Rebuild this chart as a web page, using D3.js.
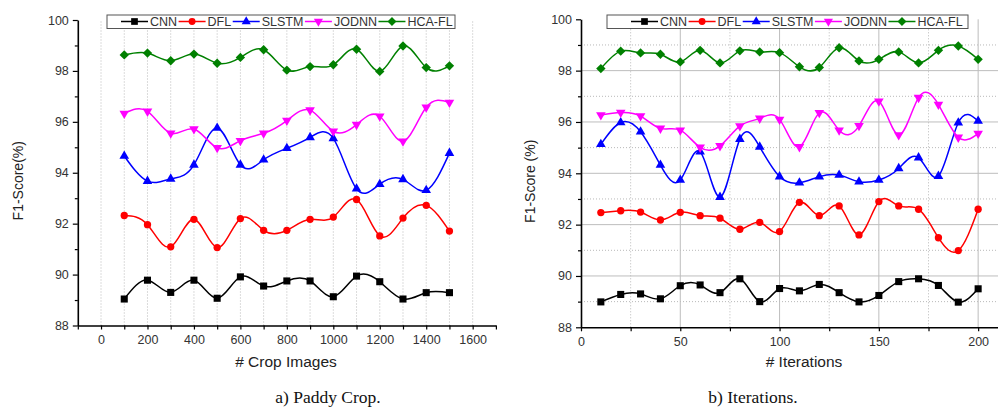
<!DOCTYPE html>
<html>
<head>
<meta charset="utf-8">
<script src="https://cdn.jsdelivr.net/npm/d3@7"></script>
<style>
body { margin: 0; background: #fff; }
svg { display: block; }
</style>
</head>
<body>
<svg width="998" height="410"></svg>
<script>
const svg = d3.select('svg');

const seriesNames = ['CNN', 'DFL', 'SLSTM', 'JODNN', 'HCA-FL'];
const seriesColors = ['#000000', '#ff0000', '#0000ff', '#ff00ff', '#008000'];

// panel a) paddy crop
const cropX = [100, 200, 300, 400, 500, 600, 700, 800, 900, 1000, 1100, 1200, 1300, 1400, 1500];
const cropCNN = [89.04, 89.78, 89.30, 89.78, 89.07, 89.91, 89.55, 89.75, 89.75, 89.13, 89.94, 89.72, 89.04, 89.29, 89.29];
const cropDFL = [92.32, 91.96, 91.09, 92.17, 91.06, 92.20, 91.74, 91.74, 92.17, 92.26, 92.95, 91.52, 92.22, 92.72, 91.71];
const cropSLSTM = [94.66, 93.67, 93.76, 94.31, 95.76, 94.31, 94.51, 94.96, 95.39, 95.35, 93.37, 93.55, 93.74, 93.31, 94.77];
const cropJODNN = [96.33, 96.41, 95.55, 95.72, 94.98, 95.26, 95.55, 96.05, 96.46, 95.63, 95.89, 96.22, 95.24, 96.57, 96.76];
const cropHCAFL = [98.63, 98.70, 98.40, 98.66, 98.30, 98.53, 98.83, 98.03, 98.17, 98.24, 98.85, 97.98, 98.98, 98.13, 98.20];

// panel b) iterations
const iterX = [10, 20, 30, 40, 50, 60, 70, 80, 90, 100, 110, 120, 130, 140, 150, 160, 170, 180, 190, 200];
const iterCNN = [88.99, 89.28, 89.30, 89.11, 89.62, 89.65, 89.35, 89.89, 89.00, 89.51, 89.42, 89.67, 89.35, 88.99, 89.24, 89.78, 89.89, 89.63, 88.98, 89.50];
const iterDFL = [92.47, 92.54, 92.49, 92.18, 92.48, 92.35, 92.25, 91.82, 92.09, 91.73, 92.87, 92.35, 92.73, 91.60, 92.90, 92.73, 92.60, 91.49, 90.99, 92.60];
const iterSLSTM = [95.13, 95.98, 95.62, 94.32, 93.74, 94.84, 93.07, 95.33, 95.03, 93.87, 93.63, 93.87, 93.93, 93.67, 93.74, 94.19, 94.61, 93.89, 95.97, 96.04];
const iterJODNN = [96.27, 96.37, 96.23, 95.75, 95.68, 95.01, 95.07, 95.84, 96.14, 96.10, 95.03, 96.36, 95.68, 95.85, 96.81, 95.49, 96.95, 96.68, 95.40, 95.55];
const iterHCAFL = [98.08, 98.76, 98.69, 98.64, 98.34, 98.79, 98.30, 98.77, 98.73, 98.70, 98.15, 98.12, 98.89, 98.38, 98.44, 98.73, 98.30, 98.79, 98.96, 98.44];

const yMajor = [88, 90, 92, 94, 96, 98, 100];
const yMinor = [89, 91, 93, 95, 97, 99];

const symbols = [
    { type: d3.symbolSquare, size: 50, rotate: 0 },
    { type: d3.symbolCircle, size: 42, rotate: 0 },
    { type: d3.symbolTriangle, size: 40, rotate: 0 },
    { type: d3.symbolTriangle, size: 40, rotate: 180 },
    { type: d3.symbolSquare, size: 44, rotate: 45 }
];

function drawPanel(p) {
    const x = d3.scaleLinear().domain(p.xDomain).range(p.xRange);
    const y = d3.scaleLinear().domain([88, 100]).range(p.yRange);
    const g = svg.append('g');

    // grid
    const grid = g.append('g').attr('fill', 'none');
    p.gridXMinor.forEach(v => grid.append('line')
        .attr('x1', x(v)).attr('x2', x(v)).attr('y1', y(88)).attr('y2', y(100))
        .attr('stroke', '#b8b8b8').attr('stroke-dasharray', '1,2'));
    p.gridYMinor.forEach(v => grid.append('line')
        .attr('x1', p.xRange[0]).attr('x2', p.xRange[1]).attr('y1', y(v)).attr('y2', y(v))
        .attr('stroke', '#b8b8b8').attr('stroke-dasharray', '1,2'));
    p.gridXMajor.forEach(v => grid.append('line')
        .attr('x1', x(v)).attr('x2', x(v)).attr('y1', y(88)).attr('y2', y(100))
        .attr('stroke', '#bdbdbd'));
    p.gridYMajor.forEach(v => grid.append('line')
        .attr('x1', p.xRange[0]).attr('x2', p.xRange[1]).attr('y1', y(v)).attr('y2', y(v))
        .attr('stroke', '#bdbdbd'));

    // axes
    g.append('g')
        .attr('transform', `translate(${p.xRange[0]},0)`)
        .call(d3.axisLeft(y).tickValues(yMajor).tickSize(5).tickSizeOuter(0).tickPadding(4));
    g.append('g')
        .attr('transform', `translate(${p.xRange[0]},0)`)
        .call(d3.axisLeft(y).tickValues(yMinor).tickSize(3).tickFormat(''))
        .select('.domain').remove();
    g.append('g')
        .attr('transform', `translate(0,${p.yRange[0]})`)
        .call(d3.axisBottom(x).tickValues(p.xMajor).tickFormat(d3.format('d'))
            .tickSize(4).tickSizeOuter(0).tickPadding(6));
    g.append('g')
        .attr('transform', `translate(0,${p.yRange[0]})`)
        .call(d3.axisBottom(x).tickValues(p.xMinor).tickSize(4).tickFormat(''))
        .select('.domain').remove();

    g.selectAll('.tick text')
        .attr('font-family', 'Liberation Sans, Arial, sans-serif')
        .attr('font-size', 12.5)
        .attr('fill', '#333');
    g.selectAll('.domain').attr('stroke-width', 1.6);
    g.selectAll('.tick line').attr('stroke-width', 1.2);

    // series
    const line = d3.line()
        .x((d, i) => x(p.x[i]))
        .y(d => y(d))
        .curve(d3.curveNatural);
    p.series.forEach((vals, k) => {
        g.append('path')
            .attr('d', line(vals))
            .attr('fill', 'none')
            .attr('stroke', seriesColors[k])
            .attr('stroke-width', 1.5);
        const s = symbols[k];
        g.append('g').selectAll('path')
            .data(vals)
            .join('path')
            .attr('d', d3.symbol().type(s.type).size(s.size))
            .attr('transform', (d, i) => `translate(${x(p.x[i])},${y(d)}) rotate(${s.rotate})`)
            .attr('fill', seriesColors[k]);
    });

    // legend
    const lg = g.append('g');
    lg.append('rect')
        .attr('x', p.legendBox[0]).attr('y', 15)
        .attr('width', p.legendBox[1] - p.legendBox[0]).attr('height', 13.5)
        .attr('fill', '#fff').attr('stroke', '#555').attr('stroke-width', 1);
    let lx = p.legendStart;
    seriesNames.forEach((name, k) => {
        lg.append('line')
            .attr('x1', lx).attr('x2', lx + 27).attr('y1', 21.5).attr('y2', 21.5)
            .attr('stroke', seriesColors[k]).attr('stroke-width', 1.5);
        const s = symbols[k];
        lg.append('path')
            .attr('d', d3.symbol().type(s.type).size(s.size * 0.9))
            .attr('transform', `translate(${lx + 13.5},21.5) rotate(${s.rotate})`)
            .attr('fill', seriesColors[k]);
        const t = lg.append('text')
            .attr('x', lx + 29).attr('y', 26)
            .attr('font-family', 'Liberation Sans, Arial, sans-serif')
            .attr('font-size', 12.5)
            .attr('fill', '#333')
            .text(name);
        lx += 29 + t.node().getComputedTextLength() + 1.5;
    });

    // titles
    g.append('text')
        .attr('transform', `translate(${p.yTitleX},${(p.yRange[0] + p.yRange[1]) / 2 + 8}) rotate(-90)`)
        .attr('text-anchor', 'middle')
        .attr('font-family', 'Liberation Sans, Arial, sans-serif')
        .attr('font-size', 14)
        .attr('fill', '#222')
        .text(p.yTitle);
    g.append('text')
        .attr('x', p.xTitleX).attr('y', 367)
        .attr('text-anchor', 'middle')
        .attr('font-family', 'Liberation Sans, Arial, sans-serif')
        .attr('font-size', 15.5)
        .attr('fill', '#222')
        .text(p.xTitle);
    g.append('text')
        .attr('x', p.captionX).attr('y', 403)
        .attr('text-anchor', 'middle')
        .attr('font-family', 'Liberation Serif, Times New Roman, serif')
        .attr('font-size', 17.5)
        .attr('fill', '#111')
        .text(p.caption);
}

drawPanel({
    x: cropX,
    series: [cropCNN, cropDFL, cropSLSTM, cropJODNN, cropHCAFL],
    xDomain: [-100, 1700], xRange: [77.8, 495.9], yRange: [325.5, 20],
    xMajor: d3.range(0, 1601, 200),
    xMinor: d3.range(-100, 1701, 200),
    gridXMinor: d3.range(0, 1601, 100), gridYMinor: [],
    gridXMajor: [], gridYMajor: [],
    legendBox: [107, 455], legendStart: 121,
    yTitle: 'F1-Score(%)', yTitleX: 23,
    xTitle: '# Crop Images', xTitleX: 286,
    caption: 'a) Paddy Crop.', captionX: 328
});

drawPanel({
    x: iterX,
    series: [iterCNN, iterDFL, iterSLSTM, iterJODNN, iterHCAFL],
    xDomain: [0, 210], xRange: [581, 998], yRange: [327.3, 19.3],
    xMajor: d3.range(0, 201, 50),
    xMinor: d3.range(25, 201, 50),
    gridXMinor: d3.range(25, 201, 50), gridYMinor: yMinor,
    gridXMajor: [50, 100, 150, 200], gridYMajor: [90, 92, 94, 96, 98],
    legendBox: [607, 968], legendStart: 631,
    yTitle: 'F1-Score (%)', yTitleX: 535,
    xTitle: '# Iterations', xTitleX: 804,
    caption: 'b) Iterations.', captionX: 753
});
</script>
</body>
</html>
